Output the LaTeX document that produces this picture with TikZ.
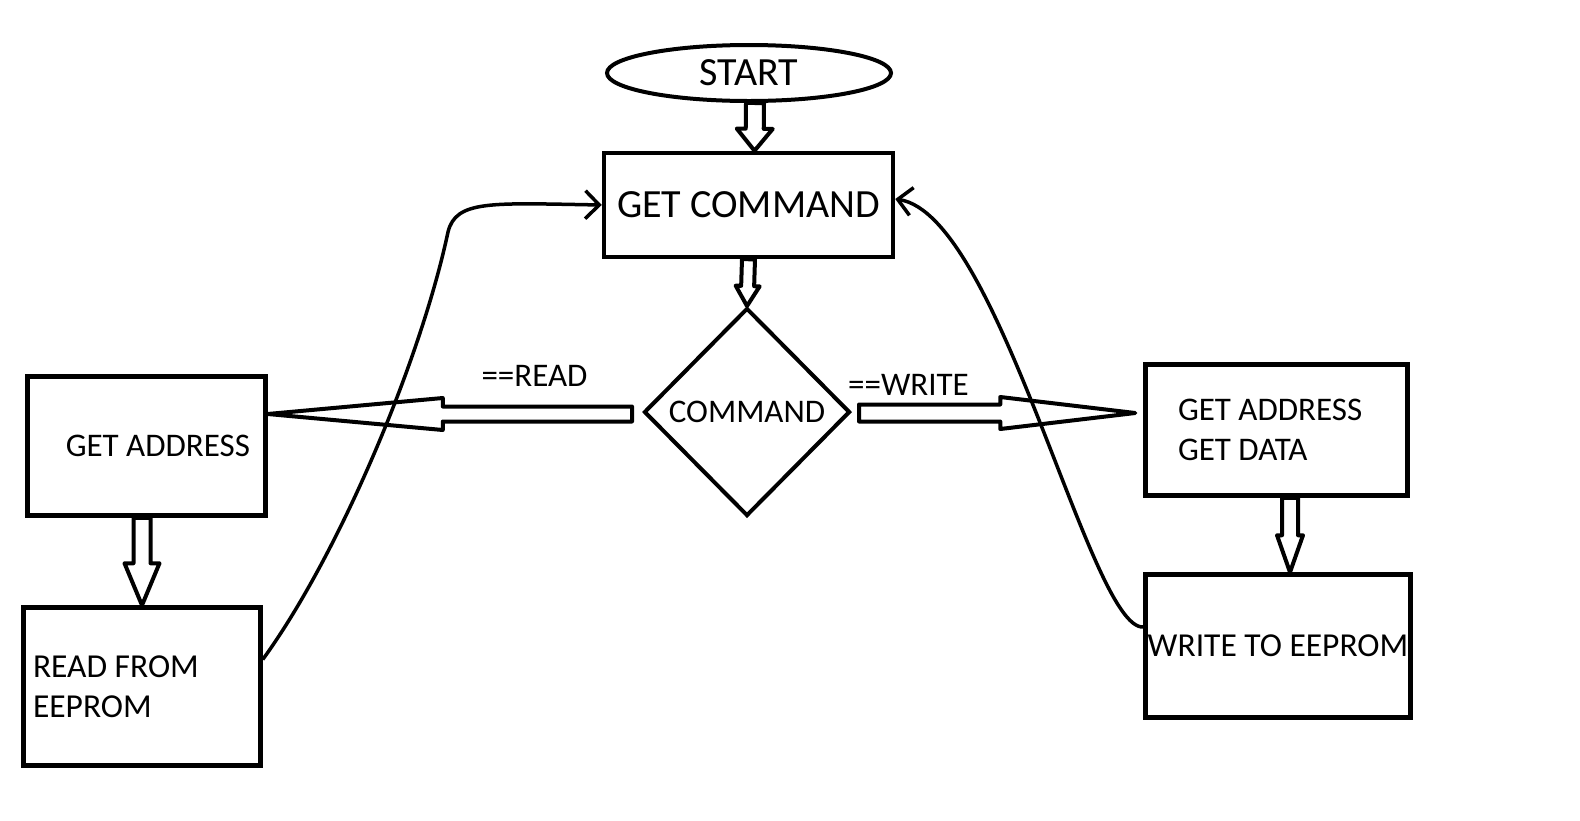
\documentclass[tikz,border=0pt]{standalone}
\usepackage{fontspec}
\setmainfont{Carlito}
\usetikzlibrary{shapes.geometric,arrows.meta,calc}

\tikzset{
  caja/.style={draw, line width=4.5pt, inner sep=0pt},
  bloque/.style={line width=4pt, line join=round},
  vuelta/.style={line width=3.5pt, -{Straight Barb[length=14pt,width=28pt]}},
  letrag/.style={font=\fontsize{40}{46}\selectfont},
  letram/.style={font=\fontsize{33}{40}\selectfont},
  letral/.style={font=\fontsize{33.5}{40}\selectfont},
}
% flecha de bloque: inicio, punta, medio ancho, medio ancho cabeza, largo cabeza
\newcommand{\flechab}[5]{%
  \draw[bloque] ($(#1)!#3!90:(#2)$) -- ($(#2)!#5!(#1)!#3!90:(#2)$)
    -- ($(#2)!#5!(#1)!#4!90:(#2)$) -- (#2)
    -- ($(#2)!#5!(#1)!#4!-90:(#2)$) -- ($(#2)!#5!(#1)!#3!-90:(#2)$)
    -- ($(#1)!#3!-90:(#2)$) -- cycle;}

\begin{document}
\begin{tikzpicture}[x=1pt,y=-1pt]
  \useasboundingbox (0,0) rectangle (1580,820);

  % bloques
  \node[ellipse, draw, line width=4pt, minimum width=284pt, minimum height=56pt, inner sep=0pt, letrag] (start) at (749,73) {START};
  \node[caja, minimum width=289pt, minimum height=104pt, letrag] (getcmd) at (748.5,205) {GET COMMAND};
  \node[diamond, draw, line width=4pt, minimum width=206pt, minimum height=208pt, inner sep=0pt, letram] (cmd) at (747,412) {COMMAND};
  \node[caja, minimum width=238pt, minimum height=139pt, text width=207pt, align=flush right, letram] (getaddr) at (146.5,446) {GET ADDRESS};
  \node[caja, minimum width=237pt, minimum height=158pt, text width=218pt, align=flush left, letral] (readee) at (142,686.5) {READ FROM\\EEPROM};
  \node[caja, minimum width=262pt, minimum height=131pt, text width=197pt, align=flush left, letram] (getdata) at (1276.5,430) {GET ADDRESS\\GET DATA};
  \node[caja, minimum width=265pt, minimum height=143pt, letral] (writeee) at (1278,646) {WRITE TO EEPROM};

  % etiquetas
  \node[letram] (lread) at (534.5,376) {==READ};
  \node[letram] (lwrite) at (908.5,385) {==WRITE};

  % puntos de las flechas
  \coordinate (f1i) at ($(start.south)+(6,0)$);
  \coordinate (f1p) at ($(getcmd.north)+(6,0)$);
  \coordinate (f3i) at (readee.north |- getaddr.south);
  \coordinate (f4i) at ($(getdata.south)+(13.5,0)$);
  \coordinate (f4p) at ($(writeee.north)+(12,0)$);
  \coordinate (fri) at ($(cmd.west)+(-10,2)$);
  \coordinate (frp) at (getaddr.east |- fri);
  \coordinate (fwi) at ($(cmd.east)+(7,1)$);
  \coordinate (fwp) at ($(getdata.west |- fwi)+(-8,0)$);

  % flechas de bloque
  \flechab{f1i}{f1p}{9pt}{18pt}{22pt}
  \flechab{getcmd.south}{cmd.north}{6.5pt}{12pt}{20pt}
  \flechab{f3i}{readee.north}{8.5pt}{17.5pt}{42pt}
  \flechab{f4i}{f4p}{8pt}{13pt}{37pt}
  \flechab{fri}{frp}{7.5pt}{16pt}{175pt}
  \flechab{fwi}{fwp}{8.5pt}{16pt}{135pt}

  % vueltas a GET COMMAND
  \draw[vuelta] ($(readee.east)+(0,-27)$) .. controls (340,553) and (421,359) .. (448,232)
    .. controls (456,200) and (490,203) .. (getcmd.west);
  \draw[vuelta] ($(writeee.west)+(0,-19)$) .. controls (1090,630) and (1000,215) .. ($(getcmd.east)+(0,-6)$);
\end{tikzpicture}
\end{document}
